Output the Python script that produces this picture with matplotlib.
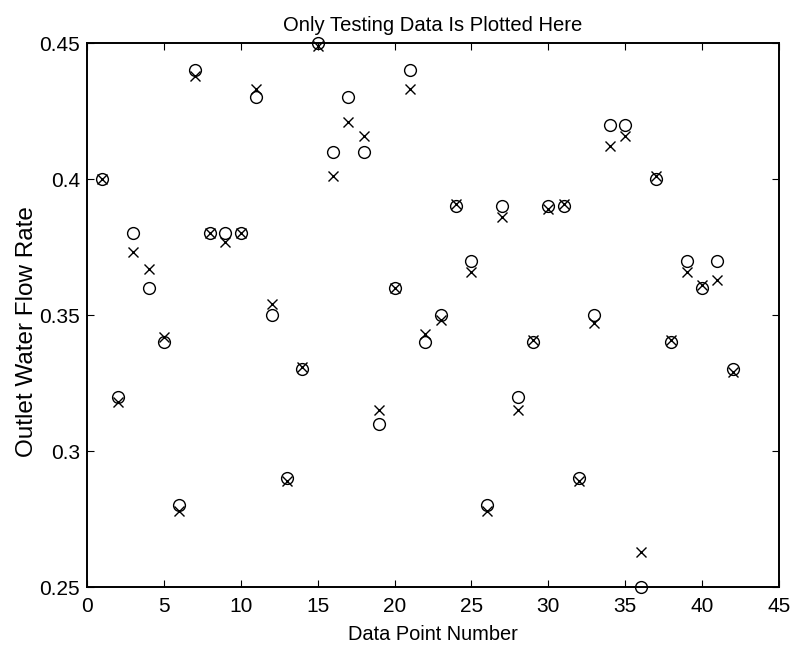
from matplotlib import pyplot as plt

plt.rcParams['font.family'] = ['Liberation Sans', 'DejaVu Sans']

point_num = list(range(1, 43))

# testing data (circles)
actual = [0.40, 0.32, 0.38, 0.36, 0.34, 0.28, 0.44, 0.38, 0.38, 0.38,
          0.43, 0.35, 0.29, 0.33, 0.45, 0.41, 0.43, 0.41, 0.31, 0.36,
          0.44, 0.34, 0.35, 0.39, 0.37, 0.28, 0.39, 0.32, 0.34, 0.39,
          0.39, 0.29, 0.35, 0.42, 0.42, 0.25, 0.40, 0.34, 0.37, 0.36,
          0.37, 0.33]

# model output (crosses)
predicted = [0.400, 0.318, 0.373, 0.367, 0.342, 0.278, 0.438, 0.380, 0.377, 0.380,
             0.433, 0.354, 0.289, 0.331, 0.449, 0.401, 0.421, 0.416, 0.315, 0.360,
             0.433, 0.343, 0.348, 0.391, 0.366, 0.278, 0.386, 0.315, 0.341, 0.389,
             0.391, 0.289, 0.347, 0.412, 0.416, 0.263, 0.401, 0.341, 0.366, 0.361,
             0.363, 0.329]

fig = plt.figure(figsize=(7.93, 6.5), dpi=100)
ax = fig.add_axes([0.1097, 0.0969, 0.8726, 0.8369])

ax.plot(point_num, actual, linestyle='none', marker='o', markersize=8.5,
        markerfacecolor='none', markeredgecolor='black', markeredgewidth=1.0,
        clip_on=False)
ax.plot(point_num, predicted, linestyle='none', marker='x', markersize=7.5,
        color='black', markeredgewidth=1.0, clip_on=False)

ax.set_xlim(0, 45)
ax.set_ylim(0.25, 0.45)
ax.set_xticks(range(0, 46, 5))
ax.set_yticks([0.25, 0.3, 0.35, 0.4, 0.45])
ax.set_yticklabels(['0.25', '0.3', '0.35', '0.4', '0.45'])
ax.tick_params(direction='in', top=True, right=True, labelsize=15, length=5)
ax.tick_params(axis='x', pad=7)
ax.tick_params(axis='y', pad=5)
for s in ax.spines.values():
    s.set_linewidth(1.4)

ax.set_title('Only Testing Data Is Plotted Here', fontsize=14.6, pad=9)
ax.set_xlabel('Data Point Number', fontsize=14.4, labelpad=7)
ax.set_ylabel('Outlet Water Flow Rate', fontsize=17.5)
ax.yaxis.set_label_coords(-0.071, 0.47)

fig.savefig('out.png', dpi=100)
